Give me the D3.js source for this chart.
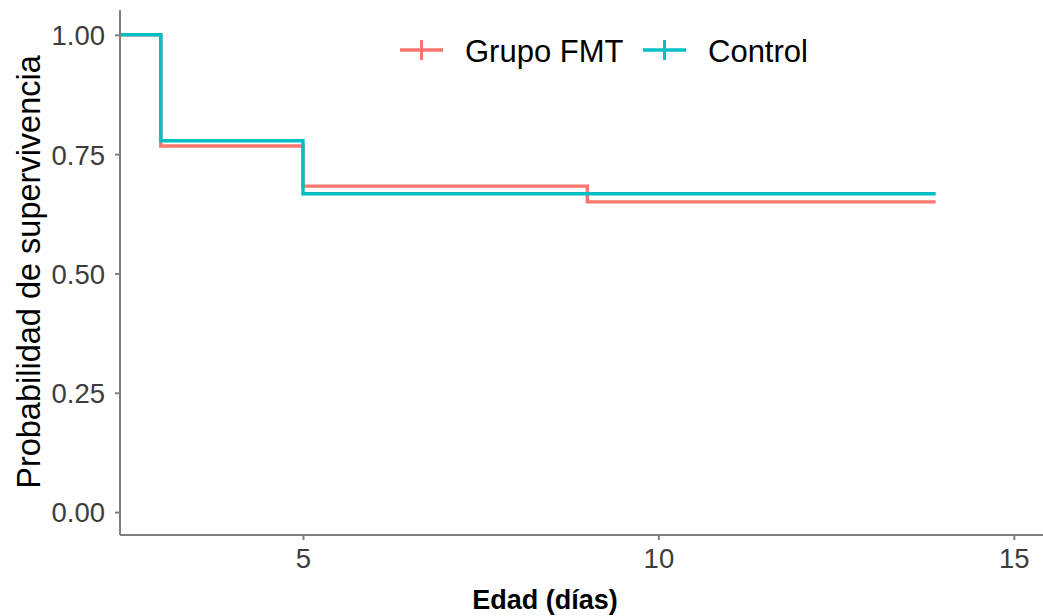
<!DOCTYPE html>
<html>
<head>
<meta charset="utf-8">
<script src="https://cdn.jsdelivr.net/npm/d3@7"></script>
<style>
  body{margin:0;background:#fff;}
  svg{display:block;font-family:"Liberation Sans",Arial,sans-serif;}
  .axis path,.axis line{stroke:#7f7f7f;stroke-width:2;}
  .axis text{fill:#3d3d3d;font-size:27.5px;}
</style>
</head>
<body>
<div id="chart"></div>
<script>
// Kaplan-Meier steps
var groups = ["Grupo FMT", "Control"];
var fmtTimes = [0, 3, 5, 9, 13.9];
var fmtSurv  = [1, 0.767, 0.683, 0.65, 0.65];
var ctlTimes = [0, 3, 5, 13.9];
var ctlSurv  = [1, 0.778, 0.667, 0.667];
var xTicks = [5, 10, 15];
var yTicks = [0, 0.25, 0.5, 0.75, 1];
var colors = {"Grupo FMT":"#F8766D", "Control":"#00BFC4"};

var W=1043, H=616;
var pL=120, pB=535, pT=10, pR=1043;

var svg=d3.select("#chart").append("svg").attr("width",W).attr("height",H);

var x=d3.scaleLinear().domain([2.426,15.41]).range([pL,pR]);
var y=d3.scaleLinear().domain([-0.048,1.052]).range([pB,pT]);

svg.append("clipPath").attr("id","clip").append("rect")
    .attr("x",pL).attr("y",pT).attr("width",pR-pL).attr("height",pB-pT);

var series=[
    {name:"Grupo FMT", pts:fmtTimes.map(function(t,i){return [t,fmtSurv[i]];})},
    {name:"Control",   pts:ctlTimes.map(function(t,i){return [t,ctlSurv[i]];})}
];

var line=d3.line().x(function(d){return x(d[0]);}).y(function(d){return y(d[1]);}).curve(d3.curveStepAfter);

svg.append("g").attr("clip-path","url(#clip)").selectAll("path").data(series).enter().append("path")
    .attr("d",function(d){return line(d.pts);})
    .attr("fill","none").attr("stroke",function(d){return colors[d.name];})
    .attr("stroke-width",3.4);

var xa=svg.append("g").attr("class","axis").attr("transform","translate(0,"+pB+")")
    .call(d3.axisBottom(x).tickValues(xTicks).tickSize(5).tickPadding(8).tickFormat(d3.format("d")));
xa.select(".domain").attr("d","M"+pL+",0H"+pR);

var ya=svg.append("g").attr("class","axis").attr("transform","translate("+pL+",0)")
    .call(d3.axisLeft(y).tickValues(yTicks).tickSize(5).tickPadding(10).tickFormat(d3.format(".2f")));
ya.select(".domain").attr("d","M0,"+pT+"V"+pB);
ya.selectAll("text").attr("dy","0.36em");

svg.append("text").attr("x",545).attr("y",609).attr("text-anchor","middle")
    .style("font-size","27px").style("font-weight","bold").attr("fill","#000").text("Edad (días)");

svg.append("text").attr("transform","translate(40,272) rotate(-90)").attr("text-anchor","middle")
    .style("font-size","32.5px").attr("fill","#000").text("Probabilidad de supervivencia");

// legend
var lg=svg.append("g");
var legX={"Grupo FMT":400, "Control":643};
groups.forEach(function(k){
    var g=lg.append("g").attr("transform","translate("+legX[k]+",50)");
    g.append("line").attr("x1",0).attr("x2",43).attr("y1",0).attr("y2",0)
        .attr("stroke",colors[k]).attr("stroke-width",3.5);
    g.append("line").attr("x1",21.5).attr("x2",21.5).attr("y1",-10).attr("y2",10)
        .attr("stroke",colors[k]).attr("stroke-width",3);
    g.append("text").attr("x",65).attr("y",12).style("font-size","31px").attr("fill","#000").text(k);
});
</script>
</body>
</html>
